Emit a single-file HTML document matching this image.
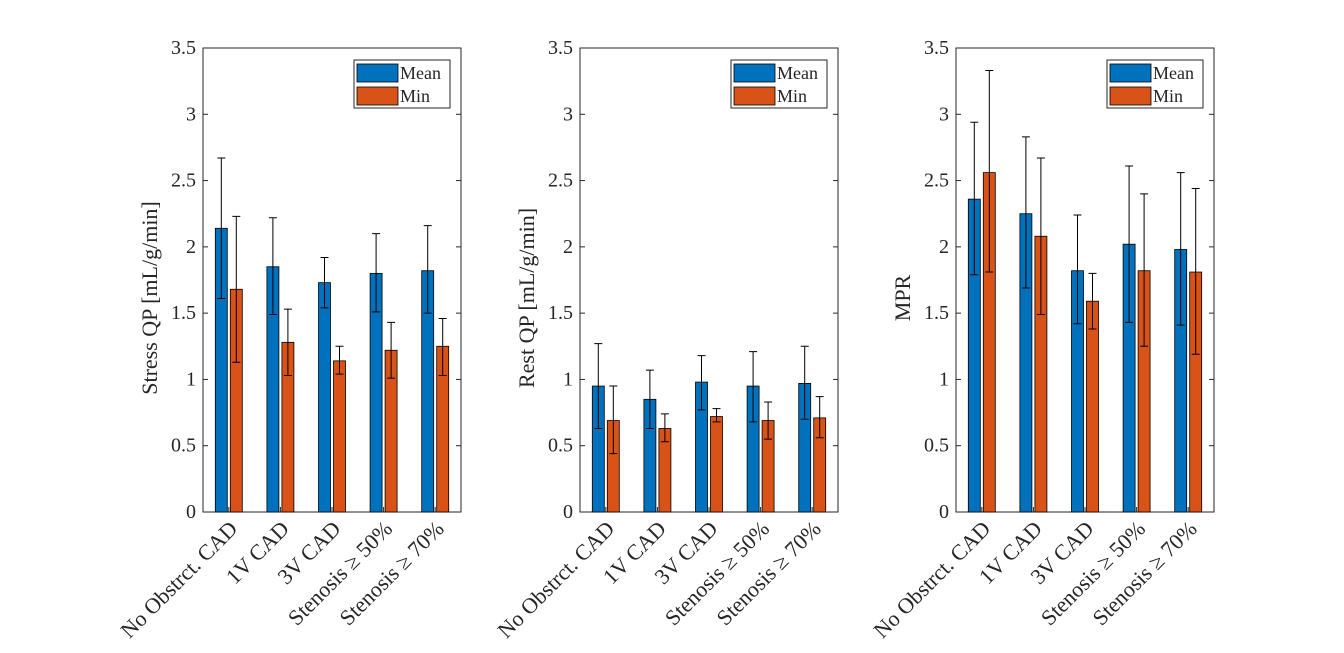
<!DOCTYPE html>
<html><head><meta charset="utf-8"><style>
html,body{margin:0;padding:0;background:#fff;}
svg text{font-family:"Liberation Serif",serif;fill:#262626;}
</style></head><body>
<svg id="chart" width="1344" height="648" viewBox="0 0 1344 648" xmlns="http://www.w3.org/2000/svg"></svg>
<script>
const categories = ["No Obstrct. CAD","1V CAD","3V CAD","Stenosis \u2265 50%","Stenosis \u2265 70%"];
const yTicks = [0,0.5,1,1.5,2,2.5,3,3.5];
const yTickLabels = ["0","0.5","1","1.5","2","2.5","3","3.5"];
const panelTitles = ["Stress QP [mL/g/min]","Rest QP [mL/g/min]","MPR"];
const stressMean = [2.14,1.85,1.73,1.80,1.82];
const stressMeanHi = [2.67,2.22,1.92,2.10,2.16];
const stressMeanLo = [1.61,1.49,1.54,1.51,1.50];
const stressMin = [1.68,1.28,1.14,1.22,1.25];
const stressMinHi = [2.23,1.53,1.25,1.43,1.46];
const stressMinLo = [1.13,1.03,1.04,1.01,1.03];
const restMean = [0.95,0.85,0.98,0.95,0.97];
const restMeanHi = [1.27,1.07,1.18,1.21,1.25];
const restMeanLo = [0.63,0.63,0.77,0.68,0.70];
const restMin = [0.69,0.63,0.72,0.69,0.71];
const restMinHi = [0.95,0.74,0.78,0.83,0.87];
const restMinLo = [0.44,0.53,0.68,0.55,0.56];
const mprMean = [2.36,2.25,1.82,2.02,1.98];
const mprMeanHi = [2.94,2.83,2.24,2.61,2.56];
const mprMeanLo = [1.79,1.69,1.42,1.43,1.41];
const mprMin = [2.56,2.08,1.59,1.82,1.81];
const mprMinHi = [3.33,2.67,1.80,2.40,2.44];
const mprMinLo = [1.81,1.49,1.38,1.25,1.19];
const legendLabels = ["Mean","Min"];

const NS="http://www.w3.org/2000/svg";
const svg=document.getElementById('chart');
function mk(tag,attrs,parent){const e=document.createElementNS(NS,tag);for(const k in attrs)e.setAttribute(k,attrs[k]);(parent||svg).appendChild(e);return e;}
const panels=[
 {x0:203,data:[stressMean,stressMeanHi,stressMeanLo,stressMin,stressMinHi,stressMinLo],key:'stress'},
 {x0:580,data:[restMean,restMeanHi,restMeanLo,restMin,restMinHi,restMinLo],key:'rest'},
 {x0:956,data:[mprMean,mprMeanHi,mprMeanLo,mprMin,mprMinHi,mprMinLo],key:'mpr'}];
const W=258,yTop=48,yBot=512,yMax=3.5;
const colors=["#0072BD","#D95319"];
panels.forEach((p,pi)=>{
  const g=mk('g',{});
  
  
  const ys=v=>yBot-(v/yMax)*(yBot-yTop);
  const xc=i=>p.x0+(i+0.5)*W/categories.length;
  const box=mk('rect',{x:p.x0,y:yTop,width:W,height:yBot-yTop,fill:'#fff',stroke:'#262626','stroke-width':1},g);
  
  
  yTicks.forEach((t,ti)=>{
    const y=ys(t);
    mk('line',{x1:p.x0,x2:p.x0+5,y1:y,y2:y,stroke:'#262626'},g);
    mk('line',{x1:p.x0+W,x2:p.x0+W-5,y1:y,y2:y,stroke:'#262626'},g);
    const tl=mk('text',{x:p.x0-7,y:y+6,'text-anchor':'end','font-size':20},g);
    tl.textContent=yTickLabels[ti];
    
    
  });
  const yl=mk('text',{x:0,y:0,'text-anchor':'middle','font-size':22,transform:`translate(${p.x0-46},${(yTop+yBot)/2+18}) rotate(-90)`},g);
  yl.textContent=panelTitles[pi];
  
  
  const [m,mh,ml,n,nh,nl]=p.data;
  categories.forEach((c,i)=>{
    mk('line',{x1:xc(i),x2:xc(i),y1:yBot,y2:yBot-5,stroke:'#262626'},g);
    [[m,mh,ml,-7.5,0],[n,nh,nl,7.5,1]].forEach(([v,h,l,off,s])=>{
      const cx=xc(i)+off;
      const b=mk('rect',{x:cx-6,y:ys(v[i]),width:12,height:yBot-ys(v[i]),fill:colors[s],stroke:'#000','stroke-width':0.8},g);
      
      
      const e=mk('path',{d:`M${cx},${ys(h[i])}V${ys(l[i])}M${cx-4},${ys(h[i])}H${cx+4}M${cx-4},${ys(l[i])}H${cx+4}`,stroke:'#000','stroke-width':1,fill:'none'},g);
      
      
    });
    const xl=mk('text',{x:0,y:0,'text-anchor':'end','font-size':22,transform:`translate(${xc(i)+10},${yBot+18}) rotate(-45)`},g);
    xl.textContent=c;
    
    
  });
  const lx=p.x0+W-107, ly=60;
  const lg=mk('g',{},g);
  
  
  mk('rect',{x:lx,y:ly,width:96,height:48,fill:'#fff',stroke:'#262626','stroke-width':1},lg);
  legendLabels.forEach((lab,k)=>{
    const sw=mk('rect',{x:lx+3,y:ly+4+k*23,width:41,height:18,fill:colors[k],stroke:'#000','stroke-width':0.8},lg);
    
    
    const t=mk('text',{x:lx+46,y:ly+19+k*23,'font-size':18},lg);
    t.textContent=lab;
    
    
  });
});
</script>
</body></html>
